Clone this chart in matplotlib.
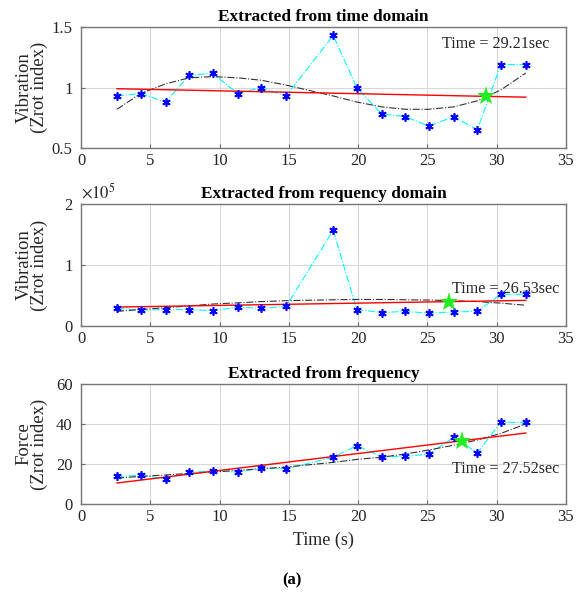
import numpy as np
import matplotlib.pyplot as plt

# === Data ===
t = [2.6, 4.3, 6.1, 7.8, 9.5, 11.3, 13.0, 14.8, 18.2, 19.9, 21.7, 23.4, 25.1, 26.9, 28.6, 30.3, 32.1]

vib_time = [0.93, 0.95, 0.88, 1.10, 1.12, 0.95, 1.00, 0.93, 1.43, 1.00, 0.78, 0.76, 0.68, 0.76, 0.65, 1.19, 1.19]
vib_time_fit = [0.82, 0.95, 1.03, 1.08, 1.09, 1.08, 1.06, 1.02, 0.93, 0.88, 0.84, 0.82, 0.82, 0.84, 0.89, 0.98, 1.12]
vib_time_line = [0.99, 0.92]
star_time = (29.21, 0.93)

vib_freq = [0.29, 0.26, 0.27, 0.27, 0.25, 0.31, 0.29, 0.32, 1.57, 0.27, 0.22, 0.24, 0.21, 0.23, 0.24, 0.52, 0.52]
vib_freq_fit = [0.24, 0.27, 0.30, 0.33, 0.36, 0.38, 0.40, 0.415, 0.43, 0.435, 0.435, 0.43, 0.425, 0.415, 0.40, 0.375, 0.34]
vib_freq_line = [0.31, 0.42]
star_freq = (26.53, 0.40)

force = [13.8, 14.3, 12.6, 15.8, 16.6, 15.9, 18.0, 17.6, 23.4, 29.2, 23.6, 23.8, 24.9, 33.3, 25.6, 40.8, 40.8]
force_fit = [13.0, 13.8, 14.5, 15.3, 16.0, 16.8, 17.6, 18.5, 20.8, 22.3, 23.4, 25.0, 27.0, 29.4, 32.0, 35.3, 40.0]
force_line = [10.5, 35.5]
star_force = (27.52, 31.5)

line_x = [t[0], t[-1]]

plt.rcParams['font.family'] = ['Liberation Serif', 'DejaVu Serif']
plt.rcParams['mathtext.fontset'] = 'stix'
txt_col = '#262626'

fig = plt.figure(figsize=(5.83, 5.95), dpi=100)
L, W = 81 / 583, 485 / 583
H = 595
boxes = [(27, 148), (204, 326), (384, 504)]
axes = [fig.add_axes([L, 1 - b / H, W, (b - t_) / H]) for t_, b in boxes]

panels = [
    (axes[0], vib_time, vib_time_fit, vib_time_line, star_time,
     "Extracted from time domain", "Vibration\n(Zrot index)", (0.5, 1.5), [0.5, 1, 1.5], ["0.5", "1", "1.5"],
     "Time = 29.21sec", (26.05, 1.36)),
    (axes[1], vib_freq, vib_freq_fit, vib_freq_line, star_freq,
     "Extracted from requency domain", "Vibration\n(Zrot index)", (0, 2), [0, 1, 2], ["0", "1", "2"],
     "Time = 26.53sec", (26.8, 0.6)),
    (axes[2], force, force_fit, force_line, star_force,
     "Extracted from frequency", "Force\n(Zrot index)", (0, 60), [0, 20, 40, 60], ["0", "20", "40", "60"],
     "Time = 27.52sec", (26.8, 17.5)),
]

for ax, y, yfit, yline, star, title, ylabel, ylim, yt, ytl, txt, txtpos in panels:
    ax.plot(t, y, color='cyan', linestyle='-.', linewidth=0.8, zorder=2)
    ax.plot(t, y, linestyle='none', marker=(6, 2, 0), color='blue', markersize=6, markeredgewidth=1.2, zorder=4)
    ax.plot(t, yfit, color='#333333', linestyle='-.', linewidth=0.8, zorder=3)
    ax.plot(line_x, yline, color='red', linewidth=1.0, zorder=3)
    ax.plot(star[0], star[1], marker='*', color='#22ee22', markersize=14, markeredgewidth=0, zorder=5)
    ax.text(txtpos[0], txtpos[1], txt, fontsize=11.6, va='center', ha='left', color=txt_col)
    ax.set_xlim(0, 35)
    ax.set_ylim(*ylim)
    ax.set_xticks(range(0, 36, 5))
    ax.set_yticks(yt)
    ax.set_yticklabels(ytl)
    ax.set_title(title, fontsize=12.4, fontweight='bold', pad=4)
    ax.set_ylabel(ylabel, fontsize=13.5, linespacing=0.85, color=txt_col)
    ax.yaxis.set_label_coords(-0.068, 0.5)
    ax.grid(True, color='#d8d8d8', linewidth=0.8)
    ax.set_axisbelow(True)
    ax.tick_params(direction='in', labelsize=12, length=3, color='#666666', labelcolor=txt_col)
    ax.tick_params(axis='y', pad=6)
    for s in ax.spines.values():
        s.set_color('#777777')
        s.set_linewidth(1.0)

axes[1].text(0.0, 1.01, r'$\times10^5$', transform=axes[1].transAxes, fontsize=12,
             ha='left', va='bottom', color=txt_col)
axes[2].set_xlabel("Time (s)", fontsize=13, labelpad=5, color=txt_col)
fig.text(0.5, 0.025, "(a)", ha='center', va='center', fontsize=12, fontweight='bold')

fig.savefig("out.png", dpi=100)
